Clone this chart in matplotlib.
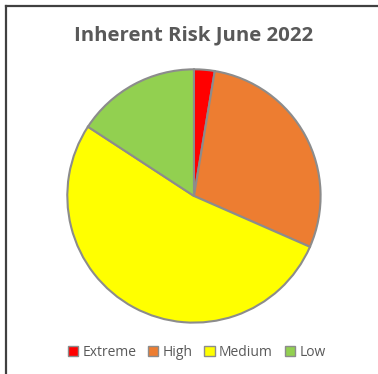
import matplotlib.pyplot as plt
from matplotlib.patches import Patch
from matplotlib.lines import Line2D

categories = ["Extreme", "High", "Medium", "Low"]
counts = [1, 11, 20, 6]
colors = ["#FF0000", "#ED7D31", "#FFFF00", "#92D050"]
title = "Inherent Risk June 2022"

plt.rcParams['font.family'] = ['Open Sans', 'DejaVu Sans']

fig = plt.figure(figsize=(3.78, 3.74), dpi=100)
fig.patch.set_facecolor("white")

# chart frame: top and left edges only
fig.add_artist(Line2D([0.016, 1.0], [0.983, 0.983], transform=fig.transFigure,
                      color="#404040", lw=1.6))
fig.add_artist(Line2D([0.016, 0.016], [0.0, 0.983], transform=fig.transFigure,
                      color="#404040", lw=1.6))

ax = fig.add_axes([0.1746, 0.134, 0.677, 0.684])
ax.pie(counts, colors=colors, startangle=90, counterclock=False,
       wedgeprops=dict(edgecolor="#8c8c8c", linewidth=1.5))
ax.set_xlim(-1.01, 1.01)
ax.set_ylim(-1.01, 1.01)
ax.set_aspect("equal")

fig.text(0.513, 0.905, title, ha="center", va="center", fontsize=14.7,
         fontweight="bold", color="#595959")

handles = [Patch(facecolor=c, edgecolor="#8c8c8c", linewidth=1.0) for c in colors]
fig.legend(handles, categories, loc="center", bbox_to_anchor=(0.52, 0.058),
           ncol=4, frameon=False, fontsize=10, handlelength=0.75, handleheight=0.75,
           handletextpad=0.3, columnspacing=0.85, labelcolor="#595959")

fig.savefig("out.png", dpi=100, facecolor="white")
